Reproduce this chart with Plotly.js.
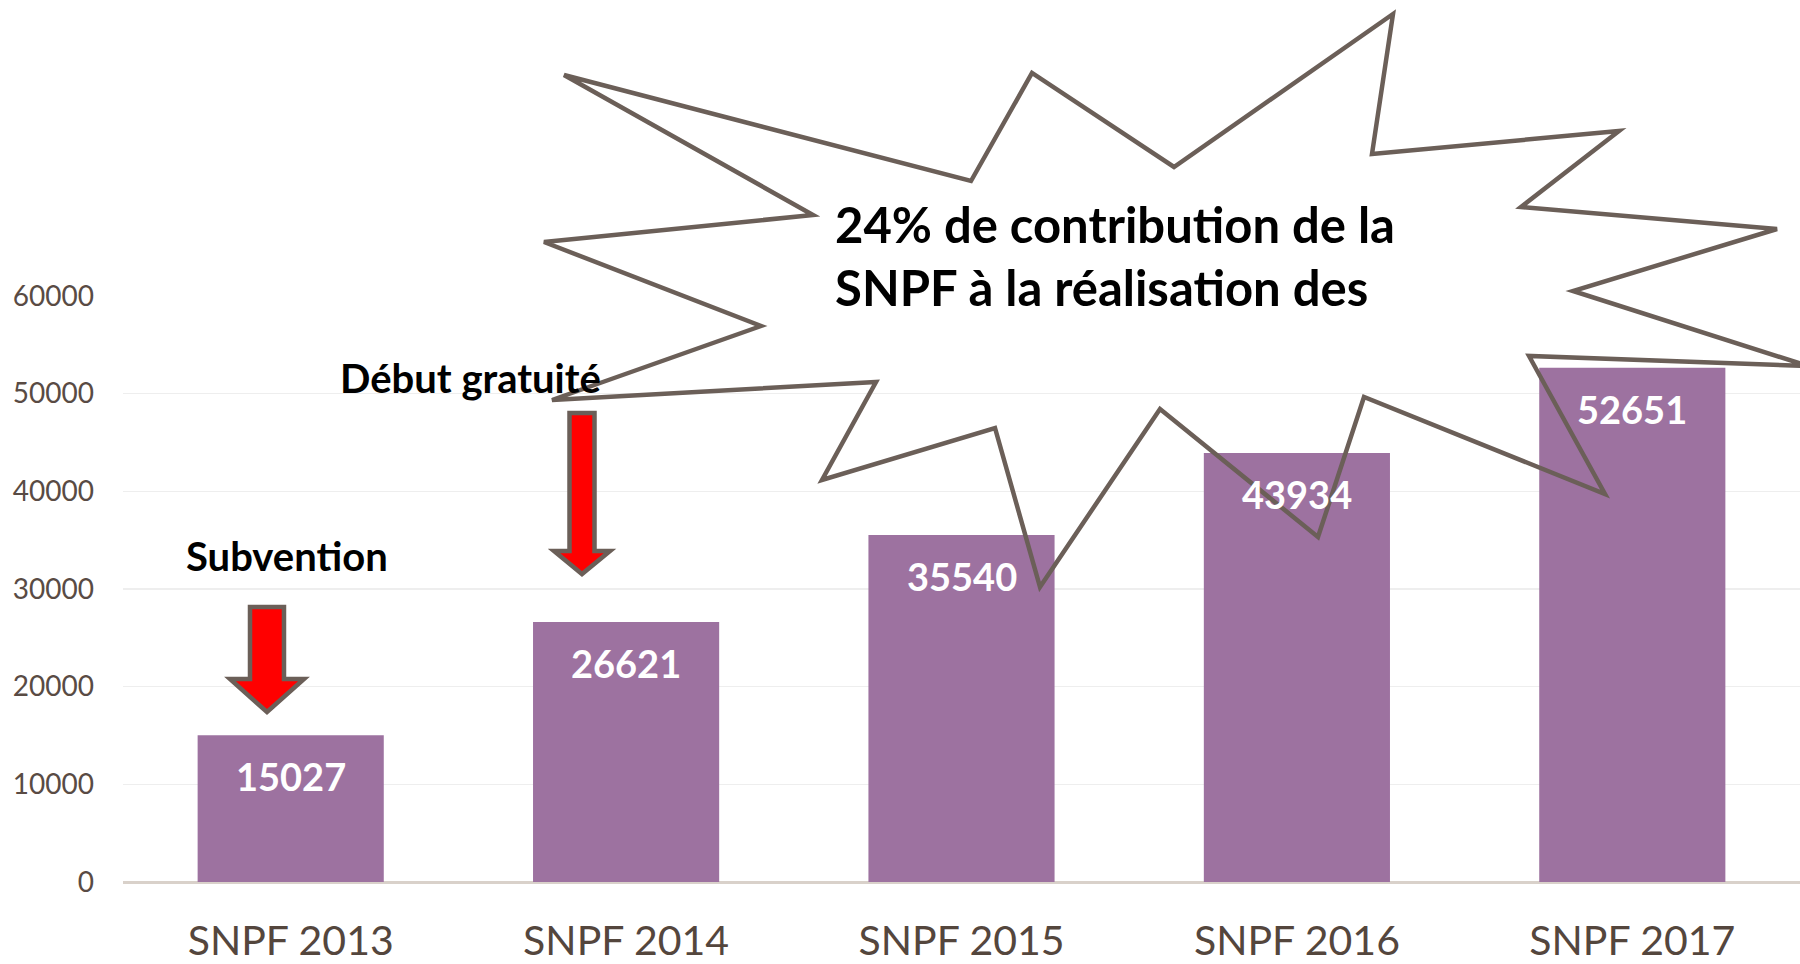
<!DOCTYPE html>
<html>
<head>
<meta charset="utf-8">
<script src="https://cdn.plot.ly/plotly-3.0.1.min.js"></script>
<style>html,body{margin:0;padding:0;background:#fff;}#chart{width:1800px;height:964px;}</style>
</head>
<body>
<div id="chart"></div>
<script>
// ---- data ----
const categories = ["SNPF 2013", "SNPF 2014", "SNPF 2015", "SNPF 2016", "SNPF 2017"];
const values = [15027, 26621, 35540, 43934, 52651];
const yTickValues = [0, 10000, 20000, 30000, 40000, 50000, 60000];
const calloutLines = ["24% de contribution de la", "SNPF à la réalisation des"];
const noteLabels = ["Subvention", "Début gratuité"];

// ---- layout geometry helpers (pixel -> paper) ----
const FIG_W = 1800, FIG_H = 964;
const M = {l: 123, r: 0, t: 296, b: 82};
const PW = FIG_W - M.l - M.r, PH = FIG_H - M.t - M.b;
const px = x => (x - M.l) / PW;
const py = y => 1 - (y - M.t) / PH;
function pathFrom(points) {
  return points.map((p, i) => (i ? 'L' : 'M') + px(p[0]).toFixed(5) + ',' + py(p[1]).toFixed(5)).join(' ') + ' Z';
}

const FONT = 'Lato, "Open Sans", sans-serif';
const outline = '#6b5f58';

// explosion / starburst shape outline (decorative)
const starPts = [
  [564, 75], [971, 181], [1032, 73], [1174, 167], [1393, 14], [1372, 154],
  [1619, 131], [1521, 207], [1777, 229], [1573, 291], [1808, 366], [1529, 356],
  [1605, 494], [1364, 397], [1318, 537], [1160, 409], [1040, 587], [995, 428],
  [822, 480], [876, 382], [552, 400], [761, 326], [544, 242], [813, 215]
];

// block arrow helper
function downArrow(cx, top, shaftHalf, headHalf, headTop, tip) {
  return [
    [cx - shaftHalf, top], [cx + shaftHalf, top], [cx + shaftHalf, headTop],
    [cx + headHalf, headTop], [cx, tip], [cx - headHalf, headTop], [cx - shaftHalf, headTop]
  ];
}

const shapes = [
  {type: 'path', xref: 'paper', yref: 'paper', layer: 'above',
   path: pathFrom(downArrow(267, 607, 17, 37, 679, 712)),
   fillcolor: '#ff0000', line: {color: outline, width: 4.5}},
  {type: 'path', xref: 'paper', yref: 'paper', layer: 'above',
   path: pathFrom(downArrow(582, 413, 12.5, 28, 551, 574)),
   fillcolor: '#ff0000', line: {color: outline, width: 4.5}},
  {type: 'path', xref: 'paper', yref: 'paper', layer: 'above',
   path: pathFrom(starPts),
   fillcolor: 'rgba(0,0,0,0)', line: {color: outline, width: 4.5}}
];

// value labels, anchored to each bar's top through the data axes
const valueLabels = categories.map((c, i) => ({
  xref: 'x', yref: 'y', x: c, y: values[i], yanchor: 'middle', yshift: -41,
  text: String(values[i]), showarrow: false,
  font: {family: FONT, size: 38, color: '#ffffff', weight: 'bold'}
}));

const annotations = valueLabels.concat([
  {xref: 'paper', yref: 'paper', x: px(833), y: py(224), xanchor: 'left', yanchor: 'middle',
   text: calloutLines[0], showarrow: false, font: {family: FONT, size: 49, color: '#000', weight: 'bold'}},
  {xref: 'paper', yref: 'paper', x: px(833), y: py(287), xanchor: 'left', yanchor: 'middle',
   text: calloutLines[1], showarrow: false, font: {family: FONT, size: 49, color: '#000', weight: 'bold'}},
  {xref: 'paper', yref: 'paper', x: px(287), y: py(556), xanchor: 'center', yanchor: 'middle',
   text: noteLabels[0], showarrow: false, font: {family: FONT, size: 40, color: '#000', weight: 'bold'}},
  {xref: 'paper', yref: 'paper', x: px(470), y: py(378), xanchor: 'center', yanchor: 'middle',
   text: noteLabels[1], showarrow: false, font: {family: FONT, size: 40, color: '#000', weight: 'bold'}}
]);

const trace = {
  type: 'bar',
  x: categories,
  y: values,
  marker: {color: '#9d72a0', line: {width: 0}},
  hoverinfo: 'skip'
};

const layout = {
  width: FIG_W, height: FIG_H,
  margin: M,
  paper_bgcolor: '#ffffff', plot_bgcolor: '#ffffff',
  showlegend: false,
  bargap: 0.445,
  font: {family: FONT},
  xaxis: {
    type: 'category',
    showgrid: false, showline: false, zeroline: false,
    ticks: '', ticklabelstandoff: 31,
    tickfont: {family: FONT, size: 41, color: '#54463d'}
  },
  yaxis: {
    range: [0, 60000],
    tickvals: yTickValues,
    ticktext: yTickValues.map(String),
    showgrid: true, gridcolor: '#eeeeee', gridwidth: 1.5,
    zeroline: true, zerolinecolor: '#d9d1ca', zerolinewidth: 3,
    showline: false, ticks: '', ticklabelstandoff: 28,
    tickfont: {family: FONT, size: 28, color: '#594b44'}
  },
  shapes: shapes,
  annotations: annotations
};

Plotly.newPlot('chart', [trace], layout, {displayModeBar: false, staticPlot: true});
</script>
</body>
</html>
